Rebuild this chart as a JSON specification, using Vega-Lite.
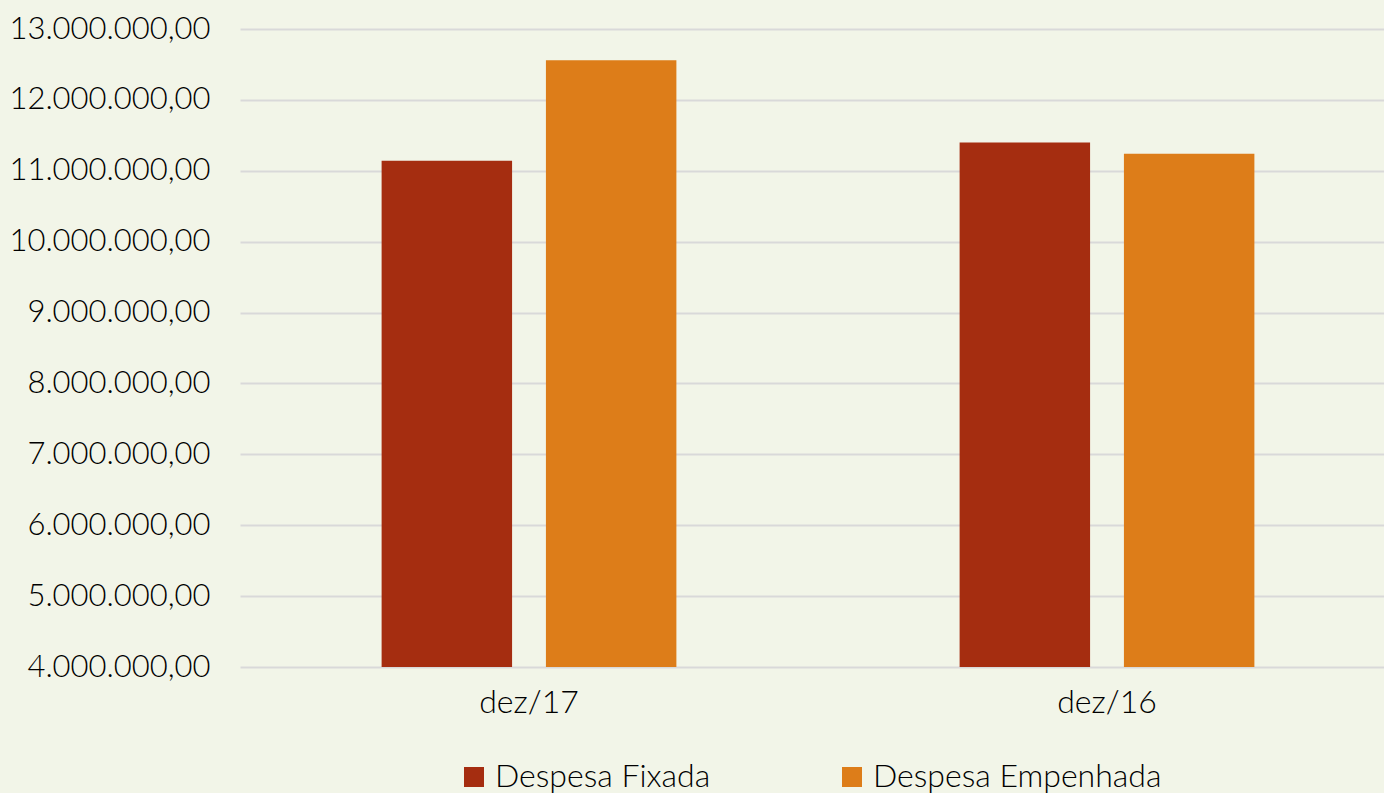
{
  "$schema": "https://vega.github.io/schema/vega-lite/v6.json",
  "autosize": "none",
  "width": 1156,
  "height": 638,
  "padding": {"left": 240, "top": 29, "right": 0, "bottom": 126},
  "background": "#F2F5E8",
  "config": {
    "locale": {"number": {"decimal": ",", "thousands": ".", "grouping": [3], "currency": ["R$ ", ""]}},
    "view": {"stroke": null},
    "font": "Lato",
    "axis": {"labelFont": "Lato", "labelColor": "#000000", "labelFontWeight": 300, "labelLimit": 0},
    "legend": {"labelFont": "Lato", "labelColor": "#000000", "labelFontWeight": 300, "labelLimit": 0}
  },
  "data": {
    "values": [
      {"periodo": "dez/17", "serie": "Despesa Fixada", "valor": 11140000},
      {"periodo": "dez/17", "serie": "Despesa Empenhada", "valor": 12560000},
      {"periodo": "dez/16", "serie": "Despesa Fixada", "valor": 11400000},
      {"periodo": "dez/16", "serie": "Despesa Empenhada", "valor": 11240000}
    ]
  },
  "mark": {"type": "bar", "clip": true},
  "encoding": {
    "x": {
      "field": "periodo",
      "type": "nominal",
      "sort": ["dez/17", "dez/16"],
      "scale": {"paddingInner": 0.49, "paddingOuter": 0.245},
      "axis": {"title": null, "labelAngle": 0, "domain": false, "ticks": false, "labelFontSize": 32, "labelPadding": 20}
    },
    "xOffset": {
      "field": "serie",
      "type": "nominal",
      "sort": ["Despesa Fixada", "Despesa Empenhada"],
      "scale": {"paddingInner": 0.206, "paddingOuter": 0}
    },
    "y": {
      "field": "valor",
      "type": "quantitative",
      "scale": {"domain": [4000000, 13000000], "zero": false, "nice": false},
      "axis": {
        "title": null,
        "values": [4000000, 5000000, 6000000, 7000000, 8000000, 9000000, 10000000, 11000000, 12000000, 13000000],
        "format": ",.2f",
        "domain": false,
        "ticks": false,
        "labelFontSize": 31,
        "labelPadding": 30,
        "gridColor": "#D9D9D9",
        "gridWidth": 2
      }
    },
    "color": {
      "field": "serie",
      "type": "nominal",
      "scale": {"domain": ["Despesa Fixada", "Despesa Empenhada"], "range": ["#A52D10", "#DD7D19"]},
      "legend": {
        "title": null,
        "orient": "none",
        "direction": "horizontal",
        "legendX": 218,
        "legendY": 732,
        "symbolType": "square",
        "symbolSize": 400,
        "symbolStrokeWidth": 0,
        "labelFontSize": 32,
        "labelOffset": 5,
        "columnPadding": 125,
        "padding": 0
      }
    }
  }
}
